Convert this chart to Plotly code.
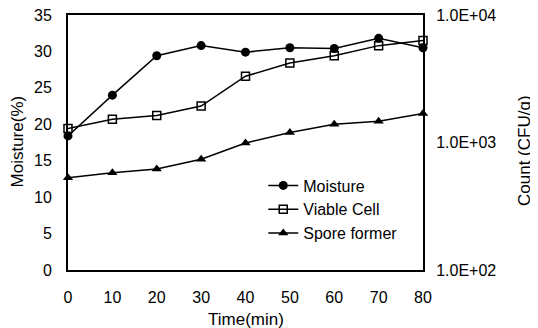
import plotly.graph_objects as go

time_min = [0, 10, 20, 30, 40, 50, 60, 70, 80]
moisture = [18.4, 24.0, 29.4, 30.8, 29.9, 30.5, 30.4, 31.8, 30.5]
viable_cell = [1290, 1520, 1630, 1930, 3310, 4200, 4790, 5750, 6310]
spore_former = [530, 580, 620, 740, 990, 1200, 1390, 1470, 1690]

x_ticks = [0, 10, 20, 30, 40, 50, 60, 70, 80]
y_ticks = [0, 5, 10, 15, 20, 25, 30, 35]
y2_ticks = [100, 1000, 10000]
y2_labels = ["1.0E+02", "1.0E+03", "1.0E+04"]

FONT = "Liberation Sans, Arial, sans-serif"
line = dict(color="black", width=1.5)

fig = go.Figure()
fig.add_trace(go.Scatter(x=time_min, y=moisture, name="Moisture", mode="lines+markers",
                         line=line, marker=dict(symbol="circle", size=9, color="black"),
                         cliponaxis=False))
fig.add_trace(go.Scatter(x=time_min, y=viable_cell, name="Viable Cell", mode="lines+markers",
                         yaxis="y2", line=line,
                         marker=dict(symbol="square-open", size=8, color="black", line=dict(width=1.5)),
                         cliponaxis=False))
fig.add_trace(go.Scatter(x=time_min, y=spore_former, name="Spore former", mode="lines+markers",
                         yaxis="y2", line=line,
                         marker=dict(symbol="triangle-up", size=9, color="black"),
                         cliponaxis=False))

# page body has an 8px margin, so the figure is sized to 530x320
fig.update_layout(
    width=530, height=320,
    margin=dict(l=60, r=115, t=7, b=58),
    paper_bgcolor="white", plot_bgcolor="white",
    font=dict(family=FONT, size=16, color="black"),
    showlegend=True,
    legend=dict(x=0.55, y=0.398, xanchor="left", yanchor="top",
                bgcolor="rgba(0,0,0,0)", font=dict(size=16), tracegroupgap=0,
                itemwidth=30),
    xaxis=dict(range=[0, 80], tickvals=x_ticks, showgrid=False, zeroline=False,
               showline=True, linecolor="black", linewidth=2, mirror=True,
               ticks="", ticklabelstandoff=12, automargin=False,
               ticklabeloverflow="allow", tickfont=dict(size=16)),
    yaxis=dict(range=[0, 35], tickvals=y_ticks, showgrid=False, zeroline=False,
               showline=True, linecolor="black", linewidth=2,
               ticks="", ticklabelstandoff=11, automargin=False,
               ticklabeloverflow="allow", tickfont=dict(size=16)),
    yaxis2=dict(type="log", range=[2, 4], overlaying="y", side="right",
                tickvals=y2_ticks, ticktext=y2_labels, showgrid=False, zeroline=False,
                showline=True, linecolor="black", linewidth=2,
                ticks="", ticklabelstandoff=8, automargin=False,
                ticklabeloverflow="allow", tickfont=dict(size=16)),
    annotations=[
        dict(text="Time(min)", xref="paper", yref="paper", x=0.5, y=-0.196,
             xanchor="center", yanchor="middle", showarrow=False, font=dict(size=17)),
        dict(text="Moisture(%)", xref="paper", yref="paper", x=-0.143, y=0.505,
             xanchor="center", yanchor="middle", showarrow=False, textangle=-90,
             font=dict(size=17)),
        dict(text="Count (CFU/g)", xref="paper", yref="paper", x=1.284, y=0.47,
             xanchor="center", yanchor="middle", showarrow=False, textangle=-90,
             font=dict(size=17)),
    ],
)

fig.write_html("out.html")
